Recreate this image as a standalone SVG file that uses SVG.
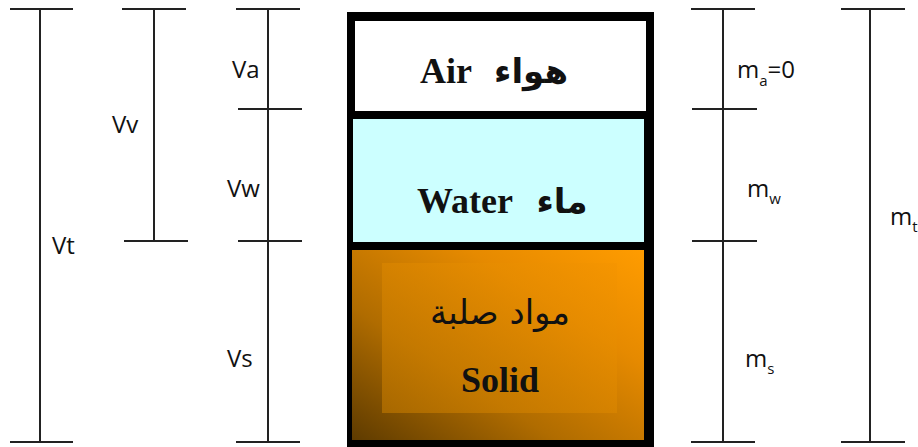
<svg xmlns="http://www.w3.org/2000/svg" width="918" height="447" viewBox="0 0 918 447">
<defs>
<linearGradient id="solidG" x1="0" y1="1" x2="1" y2="0">
<stop offset="0" stop-color="#5e3b00"/>
<stop offset="0.35" stop-color="#b06c00"/>
<stop offset="0.7" stop-color="#e68a00"/>
<stop offset="1" stop-color="#ff9c00"/>
</linearGradient>
<linearGradient id="innerG" x1="0" y1="1" x2="1" y2="0">
<stop offset="0" stop-color="#c47a00"/>
<stop offset="0.5" stop-color="#dc8700"/>
<stop offset="1" stop-color="#f49400"/>
</linearGradient>
<style>
.dim{stroke:#222;stroke-width:2;fill:none}
.lbl{font-family:"Open Sans","Noto Sans",sans-serif;font-size:24px;fill:#111}
.sub{font-size:15px}
.big{font-family:"Liberation Serif","DejaVu Serif","DejaVu Sans",serif;font-weight:bold;font-size:36px;fill:#111}
.ar{font-family:"DejaVu Sans","Noto Sans",sans-serif;font-size:34px;fill:#111}
.arb{font-weight:bold}
</style>
</defs>
<g id="connectors">
<g id="dim-Vt"><line class="dim" x1="40" y1="9" x2="40" y2="442"/><line class="dim" x1="10" y1="9" x2="73" y2="9"/><line class="dim" x1="10" y1="442" x2="73" y2="442"/></g>
<g id="dim-Vv"><line class="dim" x1="154" y1="9" x2="154" y2="241"/><line class="dim" x1="122" y1="9" x2="186" y2="9"/><line class="dim" x1="124" y1="241" x2="188" y2="241"/></g>
<g id="dim-V3"><line class="dim" x1="268" y1="9" x2="268" y2="442"/><line class="dim" x1="236" y1="9" x2="300" y2="9"/><line class="dim" x1="238" y1="109" x2="302" y2="109"/><line class="dim" x1="238" y1="241" x2="302" y2="241"/><line class="dim" x1="236" y1="442" x2="300" y2="442"/></g>
<g id="dim-m3"><line class="dim" x1="723" y1="9" x2="723" y2="442"/><line class="dim" x1="691" y1="9" x2="755" y2="9"/><line class="dim" x1="692" y1="109" x2="757" y2="109"/><line class="dim" x1="692" y1="241" x2="757" y2="241"/><line class="dim" x1="691" y1="442" x2="755" y2="442"/></g>
<g id="dim-mt"><line class="dim" x1="870" y1="9" x2="870" y2="442"/><line class="dim" x1="841" y1="9" x2="905" y2="9"/><line class="dim" x1="841" y1="442" x2="905" y2="442"/></g>
</g>
<g id="labels">
<text class="lbl" x="232" y="78">Va</text>
<text class="lbl" x="112" y="133">Vv</text>
<text class="lbl" x="227" y="197">Vw</text>
<text class="lbl" x="52" y="254">Vt</text>
<text class="lbl" x="227" y="367">Vs</text>
<text class="lbl" x="737" y="78">m<tspan class="sub" dy="8">a</tspan><tspan dy="-8">=0</tspan></text>
<text class="lbl" x="747" y="197">m<tspan class="sub" dy="7">w</tspan></text>
<text class="lbl" x="890" y="225">m<tspan class="sub" dy="7">t</tspan></text>
<text class="lbl" x="745" y="367">m<tspan class="sub" dy="7">s</tspan></text>
</g>
<g id="container">
<rect x="347" y="12" width="307" height="435" fill="#000"/>
</g>
<g id="air">
<rect x="355" y="21" width="291" height="90" fill="#fff"/>
<text class="big" x="420" y="83">Air</text>
<text class="ar arb" x="531" y="83" text-anchor="middle" direction="rtl">هواء</text>
</g>
<g id="water">
<rect x="353" y="119" width="291" height="123" fill="#ccffff"/>
<text class="big" x="417" y="213">Water</text>
<text class="ar arb" x="562" y="213" text-anchor="middle" direction="rtl">ماء</text>
</g>
<g id="solid">
<rect x="352" y="250" width="292" height="190" fill="url(#solidG)"/>
<rect x="382" y="263" width="235" height="150" fill="url(#innerG)" opacity="0.6"/>
<text class="ar" x="500" y="324" text-anchor="middle" direction="rtl">مواد صلبة</text>
<text class="big" x="500" y="392" text-anchor="middle">Solid</text>
</g>
</svg>
